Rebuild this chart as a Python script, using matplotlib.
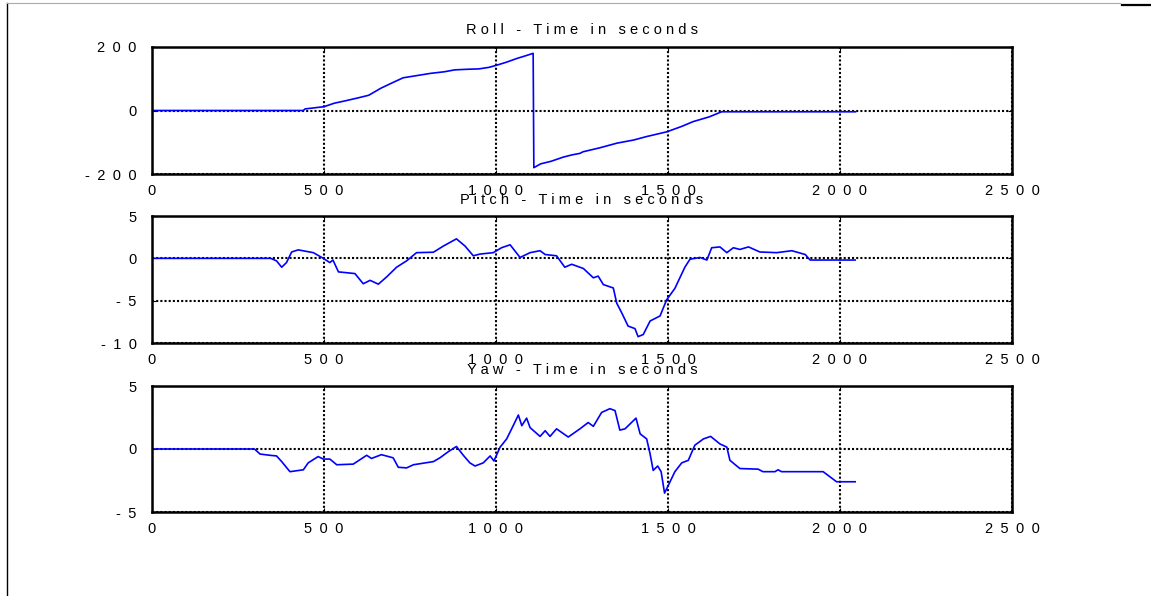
import matplotlib
matplotlib.use("Agg")
import matplotlib.pyplot as plt
from matplotlib.lines import Line2D
from matplotlib.ticker import FuncFormatter

plt.rcParams['font.family'] = ['Liberation Sans', 'DejaVu Sans']

# Roll (degrees) vs time in seconds
roll_t = [0, 440, 445, 500, 530, 560, 600, 630, 665, 700,
          730, 770, 810, 850, 880, 920, 950, 980, 1003, 1030,
          1061, 1085, 1108, 1110, 1130, 1160, 1195, 1220, 1244, 1253,
          1300, 1351, 1400, 1438, 1497, 1540, 1573, 1620, 1656, 2045]
roll_v = [0, 0, 5, 12, 23, 30, 40, 48, 70, 88,
          103, 110, 117, 122, 128, 130, 131, 136, 143, 152,
          164, 172, 180, -180, -168, -160, -147, -140, -135, -130,
          -118, -103, -93, -82, -67, -50, -35, -20, -4, -4]

# Pitch
pitch_t = [0, 345, 362, 377, 391, 406, 425, 469, 498, 517,
           526, 542, 590, 614, 634, 658, 682, 711, 740, 769,
           818, 847, 885, 910, 934, 953, 992, 1016, 1041, 1070,
           1099, 1128, 1143, 1176, 1200, 1220, 1254, 1283, 1297, 1312,
           1341, 1351, 1365, 1384, 1404, 1413, 1428, 1448, 1477, 1496,
           1520, 1549, 1564, 1593, 1613, 1627, 1651, 1671, 1690, 1709,
           1734, 1767, 1816, 1860, 1899, 1913, 2044]
pitch_v = [0, 0.0, -0.3, -1.05, -0.5, 0.75, 1.0, 0.67, 0.0, -0.5,
           -0.2, -1.6, -1.8, -3.0, -2.6, -3.05, -2.2, -1.05, -0.3, 0.67,
           0.72, 1.45, 2.3, 1.45, 0.3, 0.5, 0.67, 1.25, 1.6, 0.1,
           0.67, 0.9, 0.45, 0.3, -1.05, -0.7, -1.2, -2.3, -2.1, -3.1,
           -3.5, -5.3, -6.4, -8.0, -8.3, -9.25, -9.0, -7.4, -6.8, -4.9,
           -3.55, -1.05, -0.1, 0.1, -0.2, 1.25, 1.35, 0.67, 1.25, 1.05,
           1.35, 0.75, 0.67, 0.9, 0.45, -0.2, -0.2]

# Yaw
yaw_t = [0, 298, 314, 343, 362, 377, 401, 440, 454, 483,
         498, 517, 537, 585, 624, 638, 667, 701, 716, 740,
         760, 818, 837, 862, 885, 905, 924, 939, 963, 983,
         994, 1012, 1031, 1050, 1065, 1075, 1089, 1099, 1128, 1143,
         1157, 1176, 1210, 1244, 1268, 1283, 1307, 1331, 1346, 1360,
         1375, 1407, 1419, 1438, 1448, 1457, 1470, 1480, 1490, 1498,
         1520, 1540, 1559, 1578, 1603, 1624, 1651, 1671, 1680, 1709,
         1762, 1776, 1811, 1820, 1830, 1951, 1990, 2044]
yaw_v = [0, 0.0, -0.4, -0.5, -0.55, -1.0, -1.8, -1.65, -1.1, -0.6,
         -0.8, -0.8, -1.25, -1.2, -0.5, -0.75, -0.45, -0.7, -1.45, -1.5,
         -1.25, -1.0, -0.7, -0.2, 0.2, -0.5, -1.1, -1.35, -1.1, -0.55,
         -0.95, 0.15, 0.8, 1.85, 2.7, 1.85, 2.45, 1.7, 1.0, 1.45,
         1.0, 1.6, 0.95, 1.6, 2.1, 1.8, 2.9, 3.2, 3.05, 1.5,
         1.6, 2.45, 1.2, 0.8, -0.4, -1.7, -1.35, -1.8, -3.5, -3.05,
         -1.8, -1.1, -0.9, 0.3, 0.8, 1.0, 0.4, 0.15, -0.9, -1.55,
         -1.6, -1.8, -1.8, -1.65, -1.8, -1.8, -2.6, -2.6]

x_ticks = [0, 500, 1000, 1500, 2000, 2500]
panels = [
    ("Roll - Time in seconds", roll_t, roll_v, (-200, 200), [-200, 0, 200]),
    ("Pitch - Time in seconds", pitch_t, pitch_v, (-10, 5), [-10, -5, 0, 5]),
    ("Yaw - Time in seconds", yaw_t, yaw_v, (-5, 5), [-5, 0, 5]),
]
# axes boxes in figure pixels (top, bottom)
boxes = [(47, 174), (216, 343), (386, 512)]

W, H = 1151, 596


def spaced(v, pos):
    return "\u2002".join("%g" % v)


fig = plt.figure(figsize=(W / 100, H / 100), dpi=100)

for (title, t, v, ylim, yt), (top, bot) in zip(panels, boxes):
    ax = fig.add_axes([152 / W, 1 - bot / H, 860 / W, (bot - top) / H])
    ax.plot(t, v, color=(0, 0, 1), linewidth=1.2)
    ax.set_xlim(0, 2500)
    ax.set_ylim(*ylim)
    ax.set_xticks(x_ticks)
    ax.set_yticks(yt)
    ax.xaxis.set_major_formatter(FuncFormatter(spaced))
    ax.yaxis.set_major_formatter(FuncFormatter(spaced))
    ax.grid(True, color="black", linestyle=(0, (1, 1)), linewidth=1.5)
    ax.tick_params(direction="in", length=3, top=True, right=True,
                   labelsize=10.5, color="black")
    ax.tick_params(axis="x", pad=7)
    ax.tick_params(axis="y", pad=11)
    for s in ax.spines.values():
        s.set_linewidth(1.8)
        s.set_color("black")
    ax.set_title(" ".join(title), fontsize=10.5, pad=9)

# window border remnants
fig.add_artist(Line2D([7 / W, 7 / W], [0, 1 - 3 / H], color="black", linewidth=1.0))
fig.add_artist(Line2D([7 / W, 1120 / W], [1 - 3 / H, 1 - 3 / H], color="#aaaaaa", linewidth=0.8))
fig.add_artist(Line2D([1122 / W, 1], [1 - 5 / H, 1 - 5 / H], color="black", linewidth=1.6))

fig.savefig("out.png", dpi=100)
